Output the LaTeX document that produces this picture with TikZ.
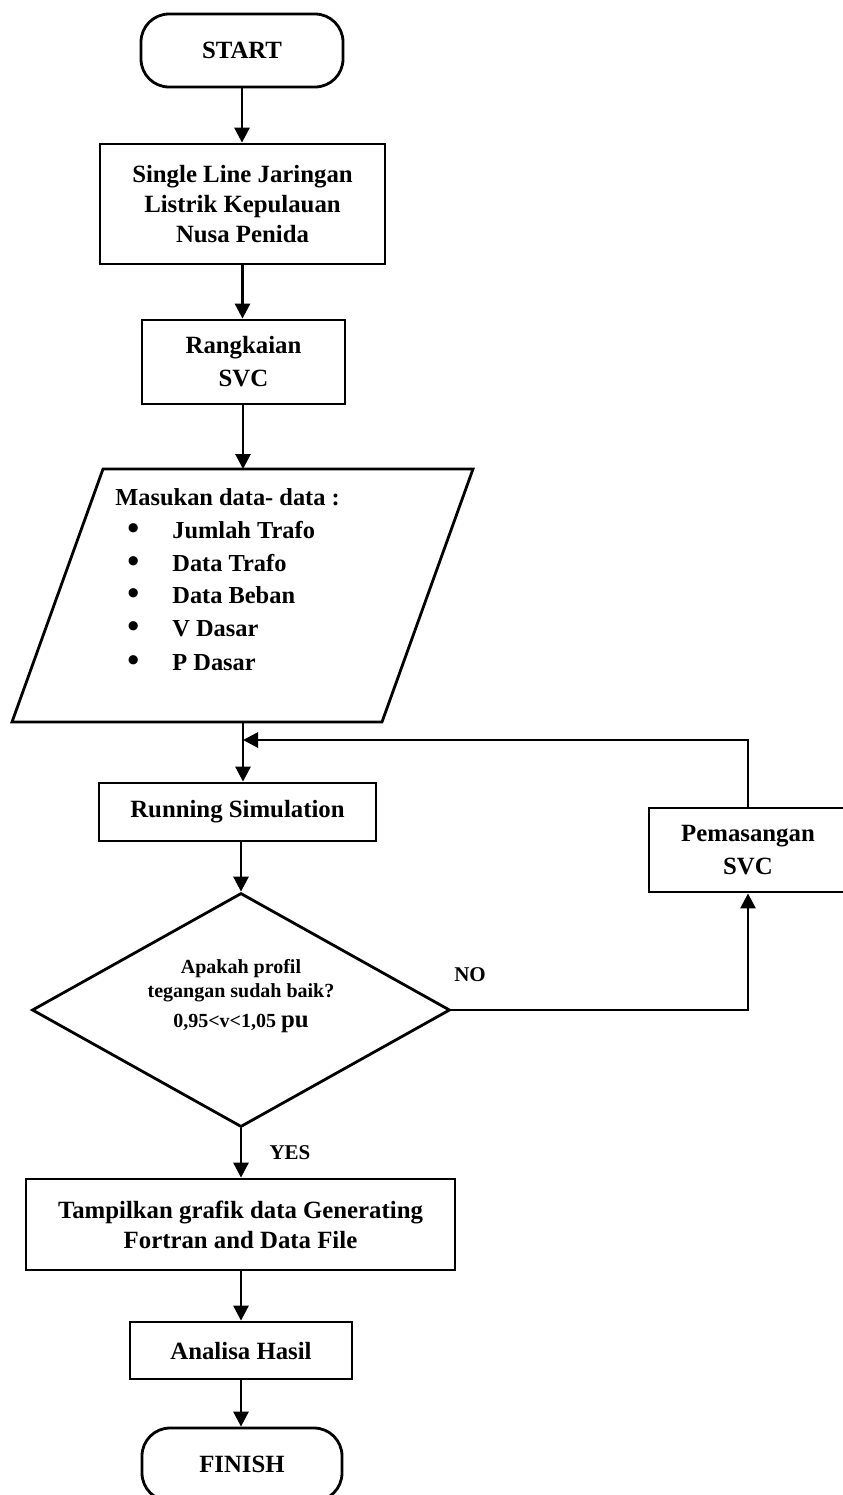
\documentclass[tikz,border=0pt]{standalone}
\usepackage{fontspec}
\setmainfont{Liberation Serif}
\usetikzlibrary{arrows.meta}
\usetikzlibrary{positioning, shapes.geometric}
\tikzset{
terminal/.style = { rectangle, draw = black, line width = 1.4pt, rounded corners = 14pt, inner sep = 0pt, minimum width = 101pt, minimum height = 36.5pt, font = \bfseries\fontsize{12.4}{15}\selectfont },
process/.style = { rectangle, draw = black, line width = 1.4pt, align = center, inner sep = 0pt, font = \bfseries\fontsize{12.4}{15}\selectfont },
decision/.style = { diamond, draw = black, line width = 1.4pt, inner sep = 0pt, minimum width = 209pt, minimum height = 117pt },
listtext/.style = { inner sep = 0pt, font = \bfseries\fontsize{12.2}{15}\selectfont },
dectext/.style = { align = center, inner sep = 0pt, font = \bfseries\fontsize{10}{12}\selectfont },
tag/.style = { inner sep = 0pt, font = \bfseries\fontsize{10.5}{12}\selectfont },
flow/.style = { line width = 1.4pt, -{Triangle[length = 7.5pt, width = 7.5pt]} },
}
\newcommand{\listbullet}{\makebox[22.5pt][l]{\fontsize{17}{15}\selectfont\raisebox{-0.6pt}{\textbullet}}}

\begin{document}
\begin{tikzpicture}[x = 0.5pt, y = -0.5pt]
    \useasboundingbox (0, 0) rectangle (842, 1495);
    % main column
    \node[terminal] (start) at (242, 50.5) {START};
    \node[process, minimum width = 142.5pt, minimum height = 60pt] (single) at (242.5, 204) {Single Line Jaringan\\Listrik Kepulauan\\Nusa Penida};
    \node[process, minimum width = 101.5pt, minimum height = 42pt] (rangkaian) at (243.5, 362) {Rangkaian\\[1.5pt]SVC};
    % input data
    \coordinate (in-tl) at (103, 469);
    \coordinate (in-tr) at (473, 469);
    \coordinate (in-br) at (382, 722);
    \coordinate (in-bl) at (12, 722);
    \coordinate (in-top) at (243, 469);
    \coordinate (in-bot) at (243, 722);
    \draw[line width = 1.4pt, line join = miter] (in-tl) -- (in-tr) -- (in-br) -- (in-bl) -- cycle;
    \node[listtext, anchor = base west] (inhead) at (115, 505) {Masukan data- data :};
    \node[listtext, anchor = base west] (item1) at (127, 538) {\listbullet Jumlah Trafo};
    \node[listtext, anchor = base west] (item2) at (127, 571) {\listbullet Data Trafo};
    \node[listtext, anchor = base west] (item3) at (127, 603) {\listbullet Data Beban};
    \node[listtext, anchor = base west] (item4) at (127, 636) {\listbullet V Dasar};
    \node[listtext, anchor = base west] (item5) at (127, 670) {\listbullet P Dasar};
    \coordinate (merge) at (243, 740);
    \node[process, minimum width = 138.5pt, minimum height = 29pt] (run) at (237.5, 812) {Running Simulation};
    \node[decision] (check) at (241, 1010) {};
    \node[dectext] (checktext) at (241, 996) {Apakah profil\\tegangan sudah baik?\\[3pt]0,95<v<1,05 {\fontsize{12.4}{15}\selectfont pu}};
    \node[process, minimum width = 214.5pt, minimum height = 45.5pt] (tampil) at (240.5, 1224.5) {Tampilkan grafik data Generating\\Fortran and Data File};
    \node[process, minimum width = 111pt, minimum height = 28.5pt] (analisa) at (241, 1350.5) {Analisa Hasil};
    \node[terminal, minimum width = 100pt] (finish) at (242, 1464.5) {FINISH};
    % loop back
    \node[process, minimum width = 99pt, minimum height = 42pt] (pasang) at (748, 850) {Pemasangan\\[1.5pt]SVC};
    % connectors
    \draw[flow] (start) -- (start |- single.north);
    \draw[flow] (single) -- (single |- rangkaian.north);
    \draw[flow] (in-top |- rangkaian.south) -- (in-top);
    \draw[flow] (in-bot) -- (in-bot |- run.north);
    \draw[flow] (check |- run.south) -- (check.north);
    \draw[flow] (check.south) -- (check |- tampil.north);
    \draw[flow] (check |- tampil.south) -- (check |- analisa.north);
    \draw[flow] (analisa) -- (check |- finish.north);
    \draw[flow] (check.east) -| (pasang.south);
    \draw[flow] (pasang.north) |- (merge);
    \node[tag] (no) at (470, 975) {NO};
    \node[tag] (yes) at (290, 1153) {YES};
\end{tikzpicture}
\end{document}
